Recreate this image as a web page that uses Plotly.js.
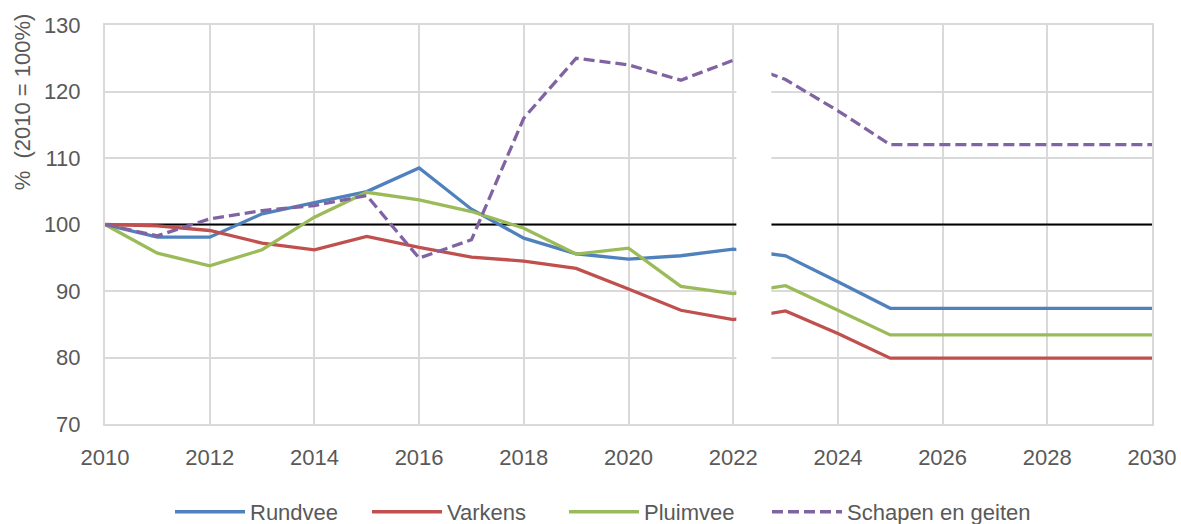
<!DOCTYPE html>
<html>
<head>
<meta charset="utf-8">
<script src="https://cdn.plot.ly/plotly-3.0.1.min.js"></script>
<style>html,body{margin:0;padding:0;background:#fff;}#chart{width:1181px;height:524px;}</style>
</head>
<body>
<div id="chart"></div>
<script>
const years = [2010,2011,2012,2013,2014,2015,2016,2017,2018,2019,2020,2021,2022,2023,2024,2025,2026,2027,2028,2029,2030];
const rundvee = [100,98.1,98.1,101.6,103.3,104.95,108.5,102.3,97.95,95.6,94.8,95.3,96.3,95.3,91.4,87.4,87.4,87.4,87.4,87.4,87.4];
const varkens = [100,99.8,99.1,97.2,96.2,98.2,96.55,95.1,94.5,93.4,90.3,87.1,85.7,87.0,83.6,79.9,79.9,79.9,79.9,79.9,79.9];
const pluimvee = [100,95.7,93.8,96.2,101.1,104.85,103.7,101.95,99.45,95.55,96.45,90.7,89.6,90.8,87.1,83.4,83.4,83.4,83.4,83.4,83.4];
const schapen = [100,98.3,100.85,102.1,102.85,104.35,94.95,97.7,116.0,125.0,124.0,121.7,124.7,121.8,117.1,112.0,112.0,112.0,112.0,112.0,112.0];
const seriesNames = ['Rundvee','Varkens','Pluimvee','Schapen en geiten'];
const seriesColors = ['#4f81bd','#c0504d','#9bbb59','#8064a2'];
const xTicks = [2010,2012,2014,2016,2018,2020,2022,2024,2026,2028,2030];
const yTicks = [70,80,90,100,110,120,130];
const baseline = 100;
const gapStart = 2022.06, gapEnd = 2022.73;

const allSeries = [rundvee, varkens, pluimvee, schapen];
const traces = allSeries.map((vals, i) => ({
  x: years, y: vals, type: 'scatter', mode: 'lines', name: seriesNames[i],
  legend: i === 3 ? 'legend2' : 'legend',
  line: {color: seriesColors[i], width: 3.3, dash: i === 3 ? '11px,5px' : 'solid'},
  hoverinfo: 'x+y+name'
}));

const font = {family: 'Liberation Sans, Arial, sans-serif', size: 22, color: '#595959'};

const layout = {
  width: 1181, height: 524,
  margin: {l: 104.5, r: 29, t: 25, b: 100},
  paper_bgcolor: '#fff', plot_bgcolor: '#fff',
  font: font,
  showlegend: true,
  legend: {orientation: 'h', x: 170 / 1181, xanchor: 'left', xref: 'container',
           y: 0.023, yanchor: 'middle', yref: 'container',
           font: font, itemwidth: 70, entrywidth: 112, entrywidthmode: 'pixels', traceorder: 'normal'},
  legend2: {orientation: 'h', x: 767 / 1181, xanchor: 'left', xref: 'container',
           y: 0.023, yanchor: 'middle', yref: 'container',
           font: font, itemwidth: 70, traceorder: 'normal'},
  xaxis: {range: [2010, 2030], tickvals: xTicks, ticktext: xTicks.map(String),
          showgrid: true, gridcolor: '#d9d9d9', gridwidth: 2, zeroline: false,
          showline: true, linecolor: '#d9d9d9', linewidth: 2, mirror: true,
          ticks: '', ticklabelstandoff: 13, tickfont: font, fixedrange: true},
  yaxis: {range: [70, 130], tickvals: yTicks, ticktext: yTicks.map(String),
          showgrid: true, gridcolor: '#d9d9d9', gridwidth: 2, zeroline: false,
          showline: true, linecolor: '#d9d9d9', linewidth: 2, mirror: true,
          ticks: '', ticklabelstandoff: 18, tickfont: font, fixedrange: true},
  shapes: [
    {type: 'line', xref: 'x', yref: 'y', x0: 2010, x1: 2030, y0: baseline, y1: baseline,
     line: {color: '#000', width: 2}, layer: 'between'},
    {type: 'rect', xref: 'x', yref: 'y', x0: gapStart, x1: gapEnd, y0: 70.5, y1: 129.5,
     fillcolor: '#ffffff', line: {width: 0}, layer: 'above'}
  ],
  annotations: [
    {text: '%  (2010 = 100%)', xref: 'paper', yref: 'paper', x: -0.079, y: 0.807,
     xanchor: 'center', yanchor: 'middle', textangle: -90, showarrow: false,
     font: {family: font.family, size: 22, color: '#595959'}}
  ]
};

Plotly.newPlot('chart', traces, layout, {displayModeBar: false, staticPlot: true});
</script>
</body>
</html>
